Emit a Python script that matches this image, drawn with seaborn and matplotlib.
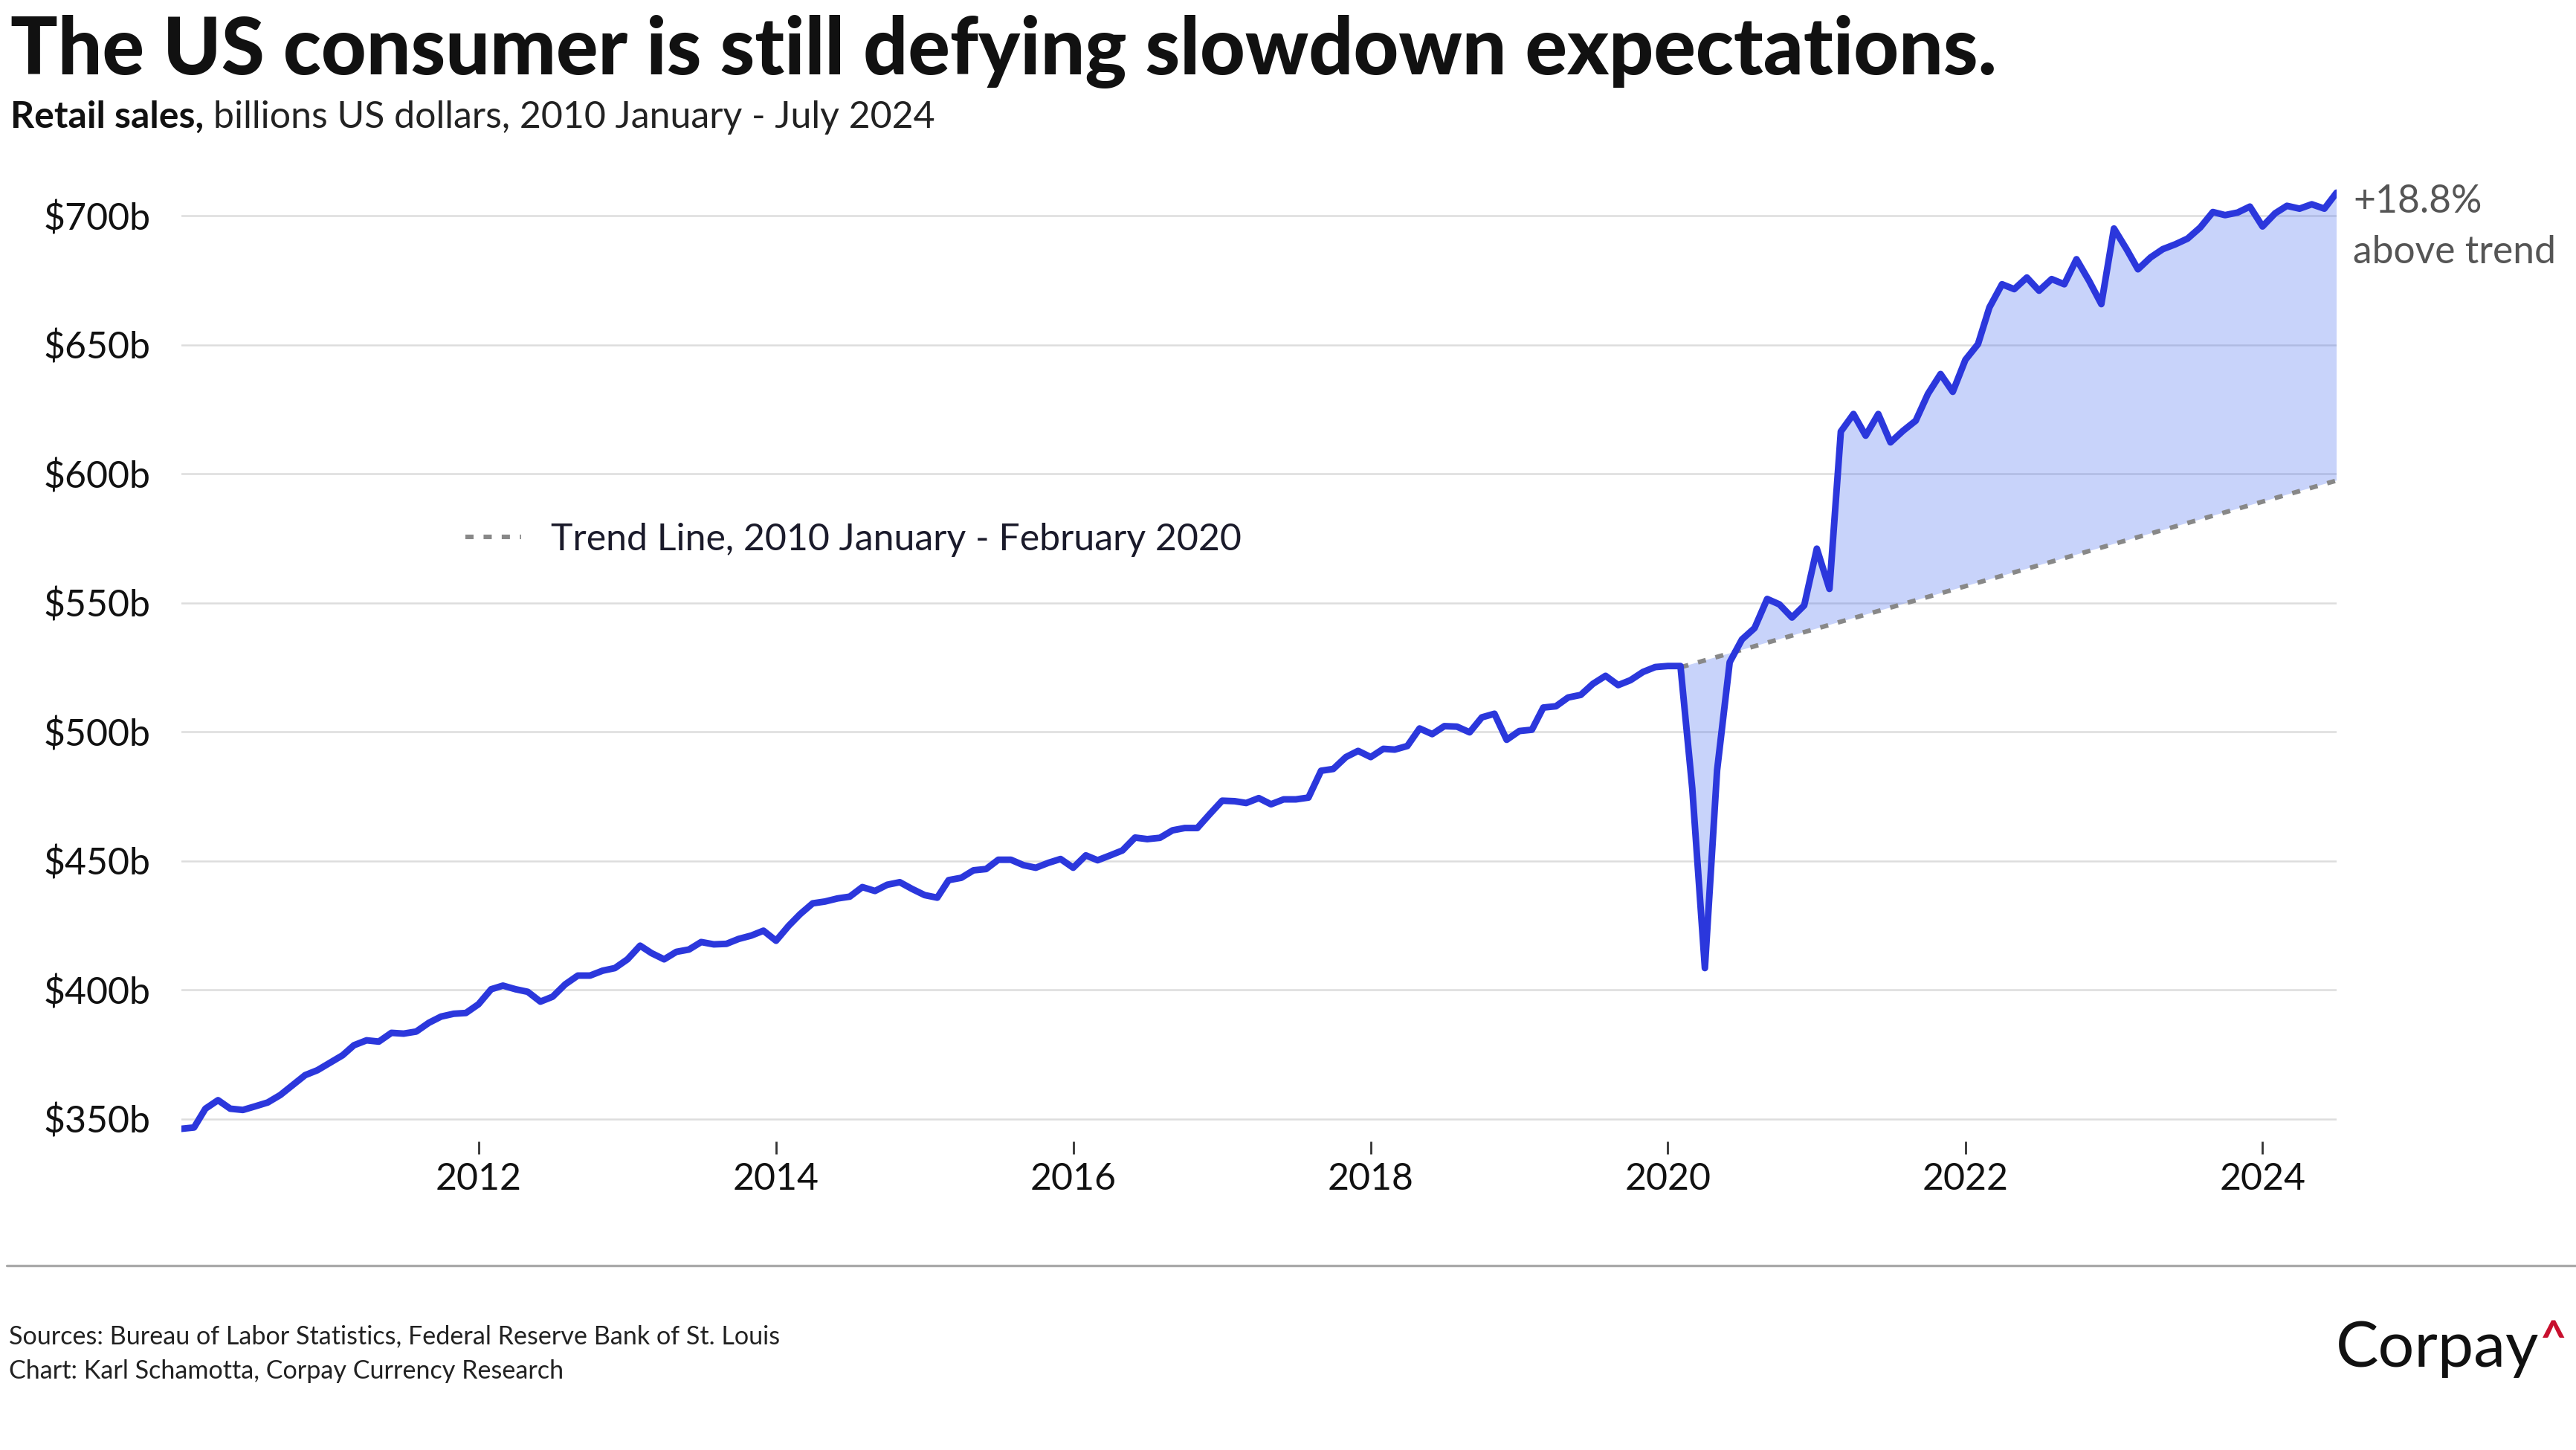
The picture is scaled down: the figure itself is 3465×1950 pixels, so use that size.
import pandas as pd
import matplotlib
matplotlib.use("Agg")
import matplotlib.pyplot as plt
from matplotlib.lines import Line2D
from matplotlib.ticker import FuncFormatter
import seaborn as sns

# retail sales, billions USD, monthly
sales_2010 = [346.1, 346.6, 353.9, 357.2, 353.9, 353.4, 354.8, 356.3, 359.2, 363.0, 366.9, 368.8]
sales_2011 = [371.7, 374.6, 378.5, 380.4, 379.9, 383.3, 383.0, 383.8, 387.2, 389.6, 390.7, 391.0]
sales_2012 = [394.4, 400.2, 401.6, 400.2, 399.2, 395.4, 397.3, 402.1, 405.5, 405.5, 407.4, 408.4]
sales_2013 = [411.8, 417.1, 414.2, 411.8, 414.7, 415.6, 418.5, 417.6, 417.8, 419.7, 421.0, 422.9]
sales_2014 = [419.0, 424.8, 429.3, 433.5, 434.2, 435.4, 436.1, 439.8, 438.3, 440.7, 441.7, 439.1]
sales_2015 = [436.7, 435.7, 442.5, 443.4, 446.3, 446.8, 450.4, 450.4, 448.3, 447.3, 449.2, 450.7]
sales_2016 = [447.3, 452.1, 450.2, 452.1, 454.0, 459.0, 458.4, 458.9, 461.8, 462.7, 462.7, 468.0]
sales_2017 = [473.3, 473.1, 472.4, 474.3, 471.9, 473.8, 473.8, 474.5, 484.9, 485.6, 490.2, 492.6]
sales_2018 = [490.2, 493.4, 493.1, 494.5, 501.3, 499.1, 502.2, 502.0, 499.8, 505.6, 507.0, 496.9]
sales_2019 = [500.3, 500.8, 509.4, 509.9, 513.3, 514.3, 518.6, 521.7, 518.1, 520.0, 523.2, 525.1]
sales_2020 = [525.5, 525.5, 478.0, 408.4, 485.1, 527.0, 535.8, 540.2, 551.5, 549.4, 544.3, 549.0]
sales_2021 = [571.0, 555.4, 616.4, 623.2, 614.8, 623.2, 612.2, 616.7, 620.6, 631.0, 638.7, 631.8]
sales_2022 = [644.2, 650.3, 664.5, 673.5, 671.6, 676.1, 671.0, 675.5, 673.5, 683.2, 674.8, 665.8]
sales_2023 = [695.1, 687.1, 679.3, 683.9, 687.1, 689.0, 691.2, 695.5, 701.5, 700.3, 701.3, 703.6]
sales_2024 = [695.9, 701.0, 703.9, 702.8, 704.5, 702.8, 709.0]

sales = (sales_2010 + sales_2011 + sales_2012 + sales_2013 + sales_2014 + sales_2015
         + sales_2016 + sales_2017 + sales_2018 + sales_2019 + sales_2020 + sales_2021
         + sales_2022 + sales_2023 + sales_2024)
months = pd.date_range("2010-01-01", periods=len(sales), freq="MS")

# trend line endpoints (fit 2010 Jan - 2020 Feb, projected)
trend_months = pd.to_datetime(["2020-02-01", "2024-07-01"])
trend_values = [525.0, 597.4]

year_ticks = [2012, 2014, 2016, 2018, 2020, 2022, 2024]
y_ticks = [350, 400, 450, 500, 550, 600, 650, 700]

sns.set_theme(style="white")
plt.rcParams['font.family'] = ['Lato', 'DejaVu Sans']

fig = plt.figure(figsize=(17.33, 9.75), dpi=200)
ax = fig.add_axes([0.0704, 0.2128, 0.8364, 0.665])

df = pd.DataFrame({'month': months, 'sales': sales})
sns.lineplot(data=df, x='month', y='sales', color='#2b37dc', linewidth=3.2, ax=ax, zorder=4)
sns.lineplot(x=trend_months, y=trend_values, color='#888888', linewidth=2.2,
             linestyle=(0, (1.8, 2.2)), ax=ax, zorder=3)
trend_line = ax.lines[-1]

# shaded gap between actual sales and trend
gap = df[df['month'] >= trend_months[0]]
fx = list(gap['month']) + list(trend_months[::-1])
fy = list(gap['sales']) + trend_values[::-1]
ax.fill(fx, fy, color='#4a6ff0', alpha=0.3, lw=0, zorder=2)

ax.set_xlim(months[0], months[-1])
ax.set_ylim(341.2, 715)
ax.set_xticks(pd.to_datetime([f"{y}-01-01" for y in year_ticks]))
ax.set_xticklabels([str(y) for y in year_ticks])
ax.set_yticks(y_ticks)
ax.yaxis.set_major_formatter(FuncFormatter(lambda v, p: f"${v:.0f}b"))
ax.set_xlabel('')
ax.set_ylabel('')
ax.yaxis.grid(True, color='#dddddd', lw=0.9)
ax.xaxis.grid(False)
ax.set_axisbelow(True)
for s in ax.spines.values():
    s.set_visible(False)
ax.tick_params(axis='x', bottom=True, length=6, width=1, color='#333333', pad=4,
               labelsize=18, labelcolor='#111111')
ax.tick_params(axis='y', left=False, length=0, pad=15, labelsize=18, labelcolor='#111111')

leg = ax.legend(handles=[trend_line], labels=['Trend Line, 2010 January - February 2020'],
                loc='center left', bbox_to_anchor=(0.1318, 0.624), frameon=False,
                fontsize=18, handlelength=1.5, handletextpad=0.8, borderaxespad=0, borderpad=0)
for t in leg.get_texts():
    t.set_color('#1a1a2a')

fig.text(0.9132, 1 - 248 / 1950, "+18.8%\nabove trend", fontsize=18.6, color='#555555',
         va='top', ha='left', linespacing=1.55)

# titles
fig.text(0.004, 1 - 100 / 1950, "The US consumer is still defying slowdown expectations.",
         fontsize=38, fontweight='black', color='#111111', va='baseline')
sub1 = fig.text(0.004, 1 - 172 / 1950, "Retail sales,", fontsize=18, fontweight='bold',
                color='#111111', va='baseline')
fig.canvas.draw()
bb = sub1.get_window_extent()
fig.text(bb.x1 / fig.bbox.width + 0.0038, 1 - 172 / 1950,
         "billions US dollars, 2010 January - July 2024", fontsize=18, color='#222222',
         va='baseline')

# footer
fig.add_artist(Line2D([0.0025, 1.0], [1 - 1702 / 1950] * 2, transform=fig.transFigure,
                      color='#aaaaaa', lw=1.2))
fig.text(0.0035, 1 - 1797 / 1950, "Sources: Bureau of Labor Statistics, Federal Reserve Bank of St. Louis",
         fontsize=12.3, color='#222222', va='center')
fig.text(0.0035, 1 - 1844 / 1950, "Chart: Karl Schamotta, Corpay Currency Research",
         fontsize=12.3, color='#222222', va='center')
fig.text(0.9853, 1 - 1838 / 1950, "Corpay", ha='right', va='baseline', fontsize=31, color='#111111')
fig.text(0.9858, 1 - 1774 / 1950, "^", color='#c8102e', fontsize=22, fontweight='bold',
         va='top', ha='left')

fig.savefig("out.png", dpi=200)
